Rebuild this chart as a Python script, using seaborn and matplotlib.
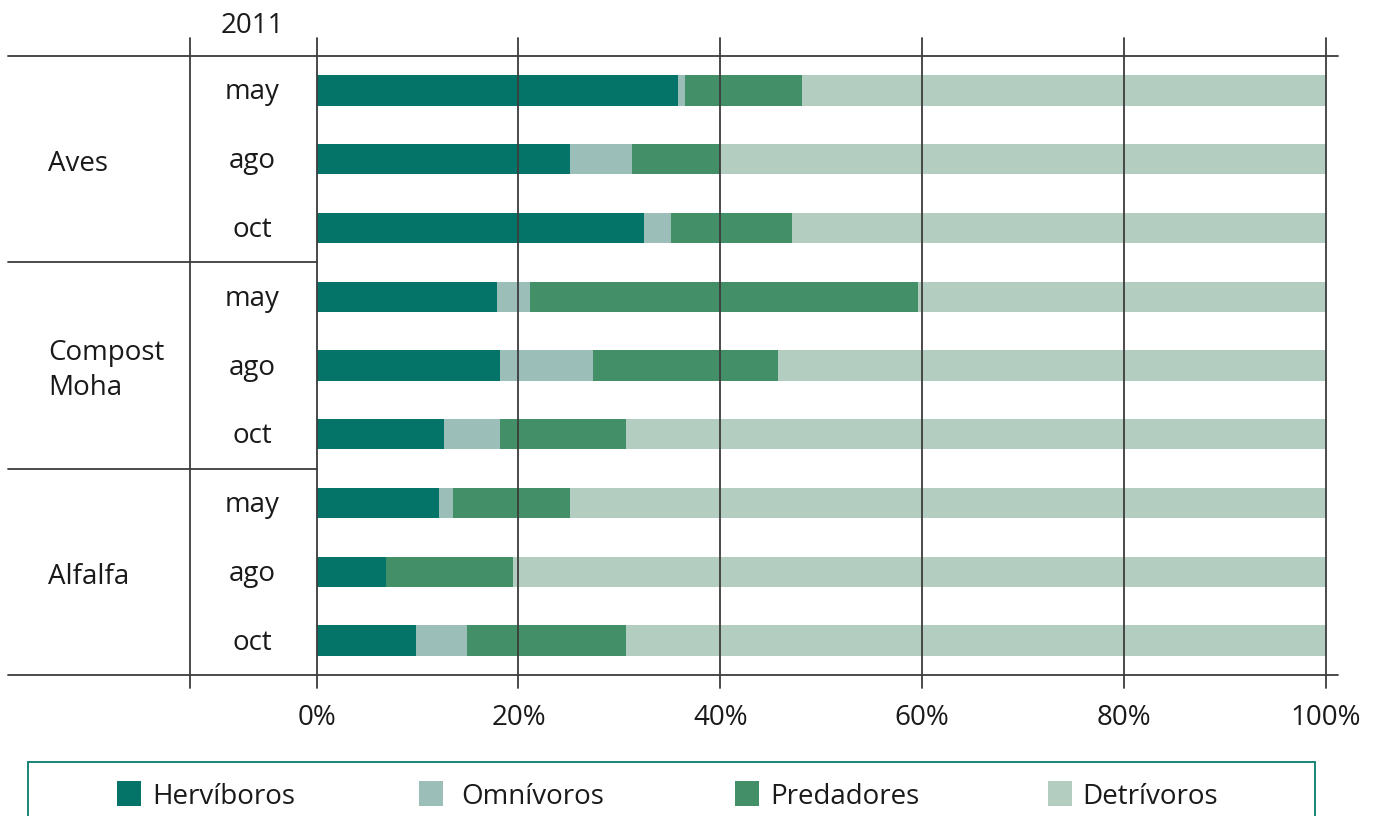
import matplotlib
matplotlib.use("Agg")
import matplotlib.pyplot as plt
import seaborn as sns
import numpy as np
import pandas as pd
from matplotlib.patches import Rectangle
from matplotlib.lines import Line2D

sns.set_theme(style="white")
plt.rcParams['font.family'] = ['Open Sans', 'DejaVu Sans']

groups = ["Aves", "Compost\nMoha", "Alfalfa"]
months = ["may", "ago", "oct"]
year_label = "2011"
series_names = ["Hervíboros", "Omnívoros", "Predadores", "Detrívoros"]
herb = [35.8, 25.1, 32.4, 17.9, 18.2, 12.6, 12.1, 6.9, 9.8]
omni = [0.7, 6.2, 2.7, 3.2, 9.2, 5.6, 1.4, 0.0, 5.1]
pred = [11.6, 8.7, 12.0, 38.5, 18.3, 12.5, 11.6, 12.6, 15.8]
detr = [round(100 - h - o - p, 1) for h, o, p in zip(herb, omni, pred)]
xticks = [0, 20, 40, 60, 80, 100]
xticklabels = ["0%", "20%", "40%", "60%", "80%", "100%"]
colors = ["#047368", "#9BBFB8", "#428F68", "#B3CEC0"]

rows = [f"{g}|{m}" for g in groups for m in months]
df = pd.DataFrame({"row": rows, "herb": herb, "omni": omni, "pred": pred, "detr": detr})
df["c1"] = df["herb"]
df["c2"] = df["c1"] + df["omni"]
df["c3"] = df["c2"] + df["pred"]
df["c4"] = df["c3"] + df["detr"]

W, H = 1382, 816
fig = plt.figure(figsize=(W / 100, H / 100), dpi=100)
x0, x1 = 316.7, 1325.5
y_top, y_bot = 56, 675
ax = fig.add_axes([x0 / W, 1 - y_bot / H, (x1 - x0) / W, (y_bot - y_top) / H])

for col, c in zip(["c4", "c3", "c2", "c1"], colors[::-1]):
    sns.barplot(data=df, x=col, y="row", orient="h", color=c, width=0.44,
                linewidth=0, saturation=1, ax=ax, order=rows)

ax.set_xlim(0, 100)
ax.set_ylim(len(rows) - 0.5, -0.5)
for s in ax.spines.values():
    s.set_visible(False)
ax.set_xlabel("")
ax.set_ylabel("")
ax.set_yticks([])
ax.set_xticks(xticks)
ax.set_xticklabels(xticklabels, fontsize=20, color="#1a1a1a")
ax.tick_params(axis="x", length=0, pad=21)
ax.grid(False)

pxx = 100 / (x1 - x0)              # % per pixel
pxy = len(rows) / (y_bot - y_top)  # rows per pixel
lc = "#3c3c3c"
lw = 1.3
xl = (8 - x0) * pxx
xr = (1338 - x0) * pxx
xcol = (190 - x0) * pxx
ytop_ext = -0.5 - 18 * pxy
ybot_ext = len(rows) - 0.5 + 13 * pxy

for yy in [-0.5, len(rows) - 0.5]:
    ax.add_line(Line2D([xl, xr], [yy, yy], color=lc, lw=lw, clip_on=False))
for k in range(1, len(groups)):
    yy = k * len(months) - 0.5
    ax.add_line(Line2D([xl, 0], [yy, yy], color=lc, lw=lw, clip_on=False))
for xx in [xcol] + xticks:
    ax.add_line(Line2D([xx, xx], [ytop_ext, ybot_ext], color=lc, lw=lw, clip_on=False, zorder=5))

xm = (252 - x0) * pxx
for i, r in enumerate(rows):
    ax.text(xm, i + 2 * pxy, r.split("|")[1], ha="center", va="center", fontsize=20, color="#1a1a1a")
ax.text(xm, -0.5 - 30 * pxy, year_label, ha="center", va="center", fontsize=20, color="#1a1a1a")
xg = (48 - x0) * pxx
for k, g in enumerate(groups):
    ax.text(xg, k * len(months) + 1 + 5 * pxy, g, ha="left", va="center", fontsize=20,
            color="#1a1a1a", linespacing=1.3)

# legend box (extends below the figure edge)
ytop_leg = 1 - 762 / H
fig.patches.append(Rectangle((28 / W, -0.05), (1315 - 28) / W, ytop_leg + 0.05,
                             transform=fig.transFigure, fill=False, edgecolor="#0a7a6e", lw=1.3))
sq = [117, 419, 735, 1048]
tx = [152, 461, 770, 1082]
for s, t, name, c in zip(sq, tx, series_names, colors):
    fig.patches.append(Rectangle((s / W, 1 - 806 / H), 24 / W, 25 / H,
                                 transform=fig.transFigure, facecolor=c, edgecolor="none"))
    fig.text(t / W, 1 - 797 / H, name, ha="left", va="center", fontsize=20, color="#1a1a1a")

fig.savefig("out.png", dpi=100)
